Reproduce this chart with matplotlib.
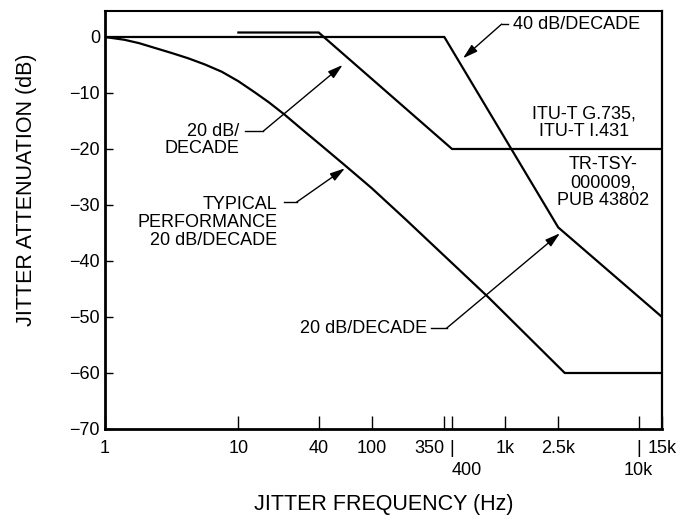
import matplotlib
matplotlib.use("Agg")
import matplotlib.pyplot as plt
from matplotlib.ticker import FixedLocator, FixedFormatter

# ---- data ----
typ_f = [1, 1.4, 1.8, 2.4, 3.2, 4.2, 5.6, 7.5, 10, 13.3, 17, 22.3, 30, 42,
         65, 100, 180, 750, 2800, 15000]
typ_db = [0, -0.5, -1.1, -2.0, -2.9, -3.8, -4.9, -6.2, -7.9, -9.9, -11.7,
          -13.9, -16.5, -19.4, -23.2, -27.0, -32.6, -46.5, -60, -60]

itu_f = [10, 40, 400, 15000]
itu_db = [0.8, 0.8, -20, -20]

tr_f = [1, 350, 2500, 15000]
tr_db = [0, 0, -34, -50]

x_ticks = [1, 10, 40, 100, 350, 400, 1000, 2500, 10000, 15000]
x_ticklabels = ['1', '10', '40', '100', '350', '|', '1k', '2.5k', '|', '15k']
x_ticks2 = [400, 10000]
x_ticklabels2 = ['400', '10k']
y_ticks = [0, -10, -20, -30, -40, -50, -60, -70]

plt.rcParams['font.family'] = ['Liberation Sans', 'DejaVu Sans']
FS = 13
LFS = 15.5

fig = plt.figure(figsize=(6.84, 5.15), dpi=100)
ax = fig.add_axes([105 / 684, 1 - 429 / 515, 557 / 684, 418 / 515])
ax.set_xscale('log')
ax.set_xlim(1, 15000)
ax.set_ylim(-70, 4.64)

lw = 1.6
ax.plot(typ_f, typ_db, color='black', lw=lw, solid_joinstyle='round')
ax.plot(itu_f, itu_db, color='black', lw=lw, solid_joinstyle='miter')
ax.plot(tr_f, tr_db, color='black', lw=lw, solid_joinstyle='miter')

# ticks
ax.xaxis.remove_overlapping_locs = False
ax.set_xticks(x_ticks)
ax.set_xticklabels(x_ticklabels)
ax.xaxis.set_minor_locator(FixedLocator(x_ticks2))
ax.xaxis.set_minor_formatter(FixedFormatter(x_ticklabels2))
ax.set_yticks(y_ticks)
ax.tick_params(axis='x', which='major', direction='in', length=9.4, width=1.0,
               pad=7.9, labelsize=FS)
ax.tick_params(axis='x', which='minor', direction='in', length=0, width=0,
               pad=24, labelsize=FS)
ax.tick_params(axis='y', which='major', direction='in', length=6, width=1.0,
               pad=3.6, labelsize=FS)
ax.tick_params(axis='y', which='minor', length=0)

for lab in ax.xaxis.get_majorticklabels():
    if lab.get_text() == '350':
        lab.set_ha('right')
for lab in ax.xaxis.get_minorticklabels():
    if lab.get_text() == '400':
        lab.set_ha('left')

for side, w in [('left', 2.0), ('bottom', 2.0), ('top', 1.5), ('right', 1.6)]:
    ax.spines[side].set_linewidth(w)

ax.set_ylabel('JITTER ATTENUATION (dB)', fontsize=LFS)
ax.yaxis.set_label_coords(-0.122, 0.572)
ax.set_xlabel('JITTER FREQUENCY (Hz)', fontsize=LFS)
ax.xaxis.set_label_coords(0.5, -0.155)

# annotations
arrow = dict(arrowstyle='-|>,head_length=0.75,head_width=0.22', color='black',
             lw=1.0, shrinkA=0, shrinkB=0, mutation_scale=12)


def leader(text_xy, text, ha, ma, dash, bend, tip):
    ax.text(text_xy[0], text_xy[1], text, ha=ha, va='center', multialignment=ma,
            fontsize=FS, linespacing=1.05)
    ax.plot([dash[0], bend[0]], [dash[1], bend[1]], color='black', lw=1.0)
    ax.annotate('', xy=tip, xytext=bend, arrowprops=arrow)


leader((1144, 2.2), '40 dB/DECADE', 'left', 'left',
       (1050, 2.3), (942, 2.3), (483, -3.8))
leader((10.1, -18.4), '20 dB/\nDECADE', 'right', 'right',
       (11.2, -16.8), (15.4, -16.8), (60.5, -5.0))
leader((19.5, -33.1), 'TYPICAL\nPERFORMANCE\n20 dB/DECADE', 'right', 'right',
       (21.8, -29.5), (27.3, -29.5), (62.9, -23.45))
leader((259, -52.0), '20 dB/DECADE', 'right', 'right',
       (277, -52.0), (364, -52.0), (2576, -35.05))

ax.text(3896, -15.3, 'ITU-T G.735,\nITU-T I.431', ha='center', va='center',
        multialignment='center', fontsize=FS, linespacing=1.05)
ax.text(5409, -26.0, 'TR-TSY-\n000009,\nPUB 43802', ha='center', va='center',
        multialignment='center', fontsize=FS, linespacing=1.05)

fig.savefig('out.png', dpi=100, facecolor='white')
